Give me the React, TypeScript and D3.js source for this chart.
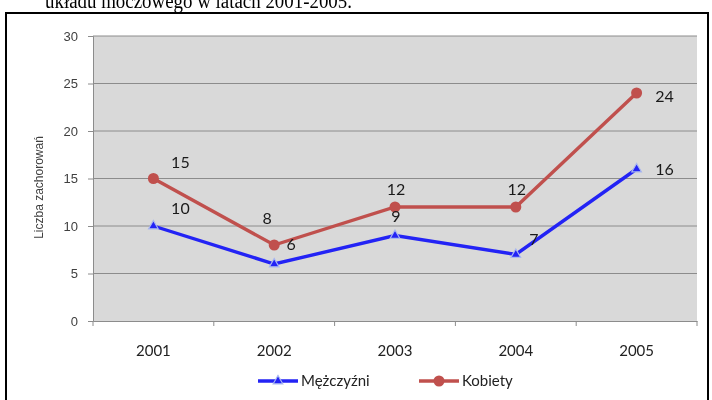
import React, { useEffect, useRef } from 'react'
import * as d3 from 'd3'

const years = ['2001', '2002', '2003', '2004', '2005']
const men = [10, 6, 9, 7, 16]
const women = [15, 8, 12, 12, 24]
const yTicks = [0, 5, 10, 15, 20, 25, 30]
const seriesNames = ['Mężczyźni', 'Kobiety']
const heading = 'układu moczowego w latach 2001-2005.'
const yTitle = 'Liczba zachorowań'

// label offsets relative to the point (dx, dy)
const menLabelOffsets = [[27, -18], [17, -20], [1, -19], [18, -15], [28, 0]]
const womenLabelOffsets = [[27, -16], [-7, -27], [1, -18], [1, -18], [28, 3]]

const W = 712
const H = 400
const margin = { top: 36, right: 15, bottom: 79, left: 93 }
const labelFont = 'Lato, "Open Sans", sans-serif'

export default function App() {
  const svgRef = useRef<SVGSVGElement>(null)

  useEffect(() => {
    if (!svgRef.current) return
    const root = d3.select(svgRef.current)
    root.selectAll('*').remove()

    // page frame and heading from the scanned document
    root.append('rect').attr('width', W).attr('height', H).attr('fill', '#fff')
    root.append('text')
      .attr('x', 45).attr('y', 8)
      .attr('font-family', '"Liberation Serif", "Times New Roman", serif')
      .attr('font-size', 20)
      .attr('textLength', 307)
      .attr('lengthAdjust', 'spacingAndGlyphs')
      .attr('fill', '#000')
      .text(heading)
    root.append('rect')
      .attr('x', 6).attr('y', 13)
      .attr('width', 702).attr('height', 400)
      .attr('fill', '#fff')
      .attr('stroke', '#000')
      .attr('stroke-width', 2)

    const innerW = W - margin.left - margin.right
    const innerH = H - margin.top - margin.bottom

    const g = root.append('g').attr('transform', `translate(${margin.left},${margin.top})`)

    const x = d3.scaleBand().domain(years).range([0, innerW])
    const y = d3.scaleLinear().domain([0, 30]).range([innerH, 0])
    const cx = (d: string) => (x(d) || 0) + x.bandwidth() / 2

    g.append('rect').attr('width', innerW).attr('height', innerH).attr('fill', '#d9d9d9')

    // gridlines
    g.selectAll('line.grid')
      .data(yTicks.slice(1))
      .join('line')
      .attr('class', 'grid')
      .attr('x1', 0).attr('x2', innerW)
      .attr('y1', d => y(d)).attr('y2', d => y(d))
      .attr('stroke', '#8c8c8c').attr('stroke-width', 1)

    // y axis
    const yAxis = g.append('g')
      .call(d3.axisLeft(y).tickValues(yTicks).tickSize(5).tickPadding(10))
    yAxis.select('.domain').attr('stroke', '#8c8c8c')
    yAxis.selectAll('.tick line').attr('stroke', '#8c8c8c')
    yAxis.selectAll('text')
      .attr('font-family', '"Liberation Sans", Arial, sans-serif')
      .attr('font-size', 13)
      .attr('fill', '#404040')

    // x axis
    const xAxis = g.append('g')
      .attr('transform', `translate(0,${innerH})`)
      .call(d3.axisBottom(x).tickSize(0).tickPadding(24))
    xAxis.select('.domain').attr('stroke', '#8c8c8c')
    xAxis.selectAll('text')
      .attr('font-family', labelFont)
      .attr('font-size', 15)
      .attr('fill', '#222')
    g.selectAll('line.xtick')
      .data(d3.range(years.length + 1))
      .join('line')
      .attr('class', 'xtick')
      .attr('x1', i => i * x.bandwidth()).attr('x2', i => i * x.bandwidth())
      .attr('y1', innerH).attr('y2', innerH + 5)
      .attr('stroke', '#8c8c8c')

    // y title
    g.append('text')
      .attr('transform', `translate(${-50},${innerH / 2 + 9}) rotate(-90)`)
      .attr('text-anchor', 'middle')
      .attr('font-family', '"Liberation Sans", Arial, sans-serif')
      .attr('font-size', 12)
      .attr('fill', '#404040')
      .text(yTitle)

    const line = d3.line<number>()
      .x((_, i) => cx(years[i]))
      .y(d => y(d))

    // men
    g.append('path').datum(men)
      .attr('d', line)
      .attr('fill', 'none')
      .attr('stroke', '#2323f5')
      .attr('stroke-width', 3.4)
    const tri = d3.symbol().type(d3.symbolTriangle).size(40)
    g.selectAll('path.mtri')
      .data(men)
      .join('path')
      .attr('class', 'mtri')
      .attr('d', tri)
      .attr('transform', (d, i) => `translate(${cx(years[i])},${y(d)})`)
      .attr('fill', '#2323f5')
      .attr('stroke', '#a9b8f0')
      .attr('stroke-width', 1.2)

    // women
    g.append('path').datum(women)
      .attr('d', line)
      .attr('fill', 'none')
      .attr('stroke', '#c0504d')
      .attr('stroke-width', 3.4)
    g.selectAll('circle.wpt')
      .data(women)
      .join('circle')
      .attr('class', 'wpt')
      .attr('cx', (_, i) => cx(years[i]))
      .attr('cy', d => y(d))
      .attr('r', 5.5)
      .attr('fill', '#c0504d')

    const addLabels = (vals: number[], offs: number[][], cls: string) => {
      g.selectAll(`text.${cls}`)
        .data(vals)
        .join('text')
        .attr('class', cls)
        .attr('x', (_, i) => cx(years[i]) + offs[i][0])
        .attr('y', (d, i) => y(d) + offs[i][1])
        .attr('dy', '0.35em')
        .attr('text-anchor', 'middle')
        .attr('font-family', labelFont)
        .attr('font-size', 16)
        .attr('fill', '#1a1a1a')
        .text(d => d)
    }
    addLabels(men, menLabelOffsets, 'mlab')
    addLabels(women, womenLabelOffsets, 'wlab')

    // legend
    const legend = root.append('g').attr('transform', 'translate(258,381)')
    const items = [
      { name: seriesNames[0], color: '#2323f5', x: 0 },
      { name: seriesNames[1], color: '#c0504d', x: 161 },
    ]
    items.forEach((it, k) => {
      const lg = legend.append('g').attr('transform', `translate(${it.x},0)`)
      lg.append('line').attr('x1', 0).attr('x2', 40).attr('y1', 0).attr('y2', 0)
        .attr('stroke', it.color).attr('stroke-width', 3.4)
      if (k === 0) {
        lg.append('path').attr('d', tri).attr('transform', 'translate(20,0)')
          .attr('fill', it.color).attr('stroke', '#a9b8f0').attr('stroke-width', 1.2)
      } else {
        lg.append('circle').attr('cx', 20).attr('cy', 0).attr('r', 5.5).attr('fill', it.color)
      }
      lg.append('text')
        .attr('x', 43).attr('y', 0).attr('dy', '0.35em')
        .attr('font-family', labelFont)
        .attr('font-size', 15)
        .attr('fill', '#222')
        .text(it.name)
    })
  }, [])

  return (
    <div style={{ position: 'fixed', left: 0, top: 0, width: W, height: H }}>
      <svg ref={svgRef} width={W} height={H} style={{ display: 'block' }}></svg>
    </div>
  )
}
